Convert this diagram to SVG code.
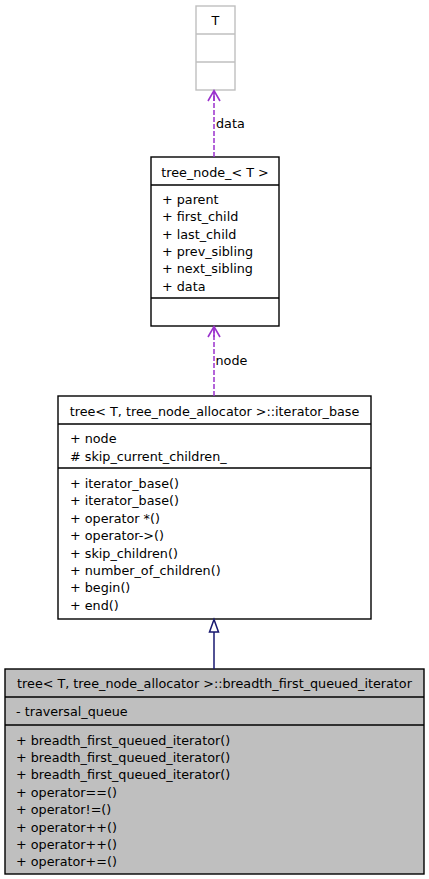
<svg xmlns="http://www.w3.org/2000/svg" width="429" height="879" viewBox="0 0 429 879">
<style>
text{font-family:"DejaVu Sans",sans-serif;font-size:12.75px;fill:#000}
.c{text-anchor:middle}
.box{fill:#fff;stroke:#000;stroke-width:1.4}
.gbox{fill:#fff;stroke:#bfbfbf;stroke-width:1.4}
.sel{fill:#bfbfbf;stroke:#000;stroke-width:1.4}
.ln{stroke:#000;stroke-width:1.4}
.gln{stroke:#bfbfbf;stroke-width:1.4}
.dep{stroke:#9a32cd;stroke-width:1.5;stroke-dasharray:5,2;fill:none}
.deph{stroke:#9a32cd;stroke-width:1.6;fill:none}
.inh{stroke:#191970;stroke-width:1.5;fill:none}
.inhh{stroke:#191970;stroke-width:1.5;fill:#fff}
</style>
<rect width="429" height="879" fill="#fff"/>
<g id="node-T">
<rect class="gbox" x="196" y="6" width="39" height="84"/>
<line class="gln" x1="196" y1="34" x2="235" y2="34"/>
<line class="gln" x1="196" y1="62" x2="235" y2="62"/>
<text class="c" x="215.5" y="25">T</text>
</g>
<g id="node-tree_node">
<rect class="box" x="151" y="157" width="128" height="169"/>
<line class="ln" x1="151" y1="185" x2="279" y2="185"/>
<line class="ln" x1="151" y1="298" x2="279" y2="298"/>
<text class="c" x="215" y="176.8">tree_node_&lt; T &gt;</text>
<text x="162" y="203.8">+ parent</text>
<text x="162" y="221.2">+ first_child</text>
<text x="162" y="238.6">+ last_child</text>
<text x="162" y="256">+ prev_sibling</text>
<text x="162" y="273.4">+ next_sibling</text>
<text x="162" y="290.8">+ data</text>
</g>
<g id="node-iterator_base">
<rect class="box" x="58" y="396" width="313" height="223"/>
<line class="ln" x1="58" y1="424" x2="371" y2="424"/>
<line class="ln" x1="58" y1="468" x2="371" y2="468"/>
<text class="c" x="214.5" y="415.5">tree&lt; T, tree_node_allocator &gt;::iterator_base</text>
<text x="70" y="443">+ node</text>
<text x="70" y="460.5">#  skip_current_children_</text>
<text x="70" y="488">+ iterator_base()</text>
<text x="70" y="505.4">+ iterator_base()</text>
<text x="70" y="522.8">+ operator *()</text>
<text x="70" y="540.2">+ operator-&gt;()</text>
<text x="70" y="557.6">+ skip_children()</text>
<text x="70" y="575">+ number_of_children()</text>
<text x="70" y="592.4">+ begin()</text>
<text x="70" y="609.8">+ end()</text>
</g>
<g id="node-breadth_first_queued_iterator">
<rect class="sel" x="5" y="669" width="419" height="205"/>
<line class="ln" x1="5" y1="697" x2="424" y2="697"/>
<line class="ln" x1="5" y1="725" x2="424" y2="725"/>
<text class="c" x="214.5" y="688">tree&lt; T, tree_node_allocator &gt;::breadth_first_queued_iterator</text>
<text x="16" y="715.5">- traversal_queue</text>
<text x="16" y="744.5">+ breadth_first_queued_iterator()</text>
<text x="16" y="761.9">+ breadth_first_queued_iterator()</text>
<text x="16" y="779.3">+ breadth_first_queued_iterator()</text>
<text x="16" y="796.7">+ operator==()</text>
<text x="16" y="814.1">+ operator!=()</text>
<text x="16" y="831.5">+ operator++()</text>
<text x="16" y="848.9">+ operator++()</text>
<text x="16" y="866.3">+ operator+=()</text>
</g>
<g id="edges">
<g id="edge-data">
<line class="dep" x1="214" y1="157" x2="214" y2="92"/>
<polyline class="deph" points="208,101 214,90.5 220,101"/>
<line class="deph" x1="214" y1="91" x2="214" y2="101"/>
<text x="216" y="127.5">data</text>
</g>
<g id="edge-node">
<line class="dep" x1="214" y1="396" x2="214" y2="328"/>
<polyline class="deph" points="208,337 214,326.5 220,337"/>
<line class="deph" x1="214" y1="327" x2="214" y2="337"/>
<text x="215.5" y="365">node</text>
</g>
<g id="edge-inherit">
<line class="inh" x1="214" y1="669" x2="214" y2="632"/>
<polygon class="inhh" points="214,619.5 209.5,632 218.5,632"/>
</g>
</g>
</svg>
